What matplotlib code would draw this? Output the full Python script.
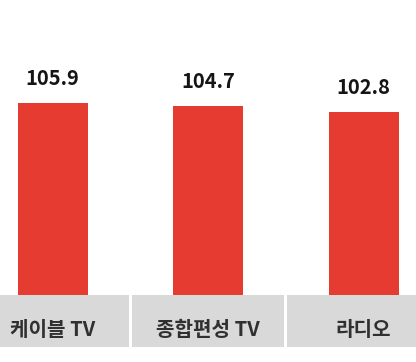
import matplotlib
matplotlib.use("Agg")
import matplotlib.pyplot as plt
from matplotlib.patches import Rectangle

plt.rcParams['font.family'] = ['Noto Sans CJK KR', 'DejaVu Sans']

categories = ["케이블 TV", "종합편성 TV", "라디오"]
values = [105.9, 104.7, 102.8]

bar_color = "#E63B31"
box_color = "#D9D9D9"

W, H = 416, 362
fig = plt.figure(figsize=(W / 100, H / 100), dpi=100)

base_px = 295
band_bottom_px = 347
unit = 155.5
x0 = 52.5
ppu = 2.918  # pixels per value unit

xlim = (-x0 / unit, (W - x0) / unit)
ax = fig.add_axes([0, (H - base_px) / H, 1, base_px / H])
ax.set_xlim(*xlim)
ax.set_ylim(40, 40 + base_px / ppu)
ax.axis('off')
xs = list(range(len(categories)))
ax.bar(xs, values, width=70 / unit, color=bar_color)
for x, v in zip(xs, values):
    ax.annotate(f"{v}", (x, v), xytext=(0, 13), textcoords='offset points',
                ha='center', va='baseline', fontsize=14.5, fontweight='bold',
                color='#151515')

ax2 = fig.add_axes([0, (H - band_bottom_px) / H, 1, (band_bottom_px - base_px) / H])
ax2.set_xlim(*xlim)
ax2.set_ylim(0, 1)
ax2.axis('off')
g = 1.5 / unit
for x, c in zip(xs, categories):
    ax2.add_patch(Rectangle((x - 0.5 + g, 0), 1 - 2 * g, 1, color=box_color, lw=0))
    ax2.text(x, 0.33, c, ha='center', va='center', fontsize=14.5, fontweight='bold',
             color='#303030')

fig.savefig("out.png", dpi=100)
